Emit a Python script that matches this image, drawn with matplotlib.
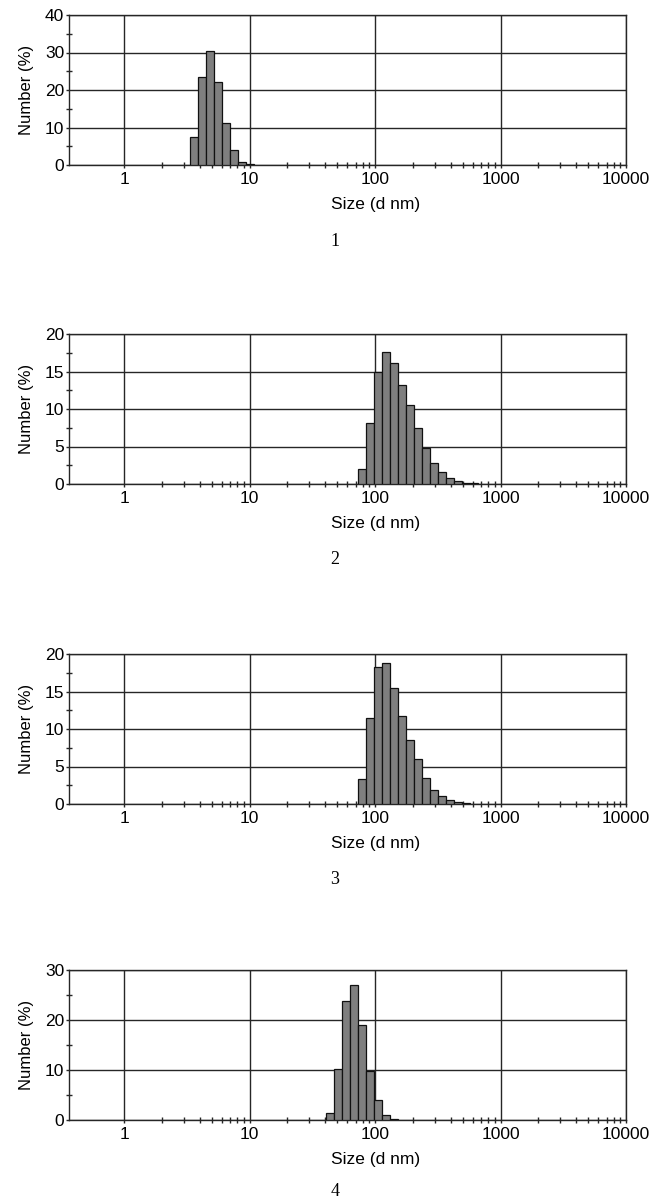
import numpy as np
import matplotlib
matplotlib.use('Agg')
import matplotlib.pyplot as plt
from matplotlib.ticker import FixedLocator, NullFormatter, FixedFormatter

# Malvern size classes (d nm) and number distributions (%) for the 4 samples
sizes_1 = [3.615, 4.187, 4.849, 5.615, 6.503, 7.531, 8.721, 10.10]
number_1 = [7.4, 23.4, 30.5, 22.1, 11.1, 4.0, 0.9, 0.3]

sizes_2 = [78.82, 91.28, 105.7, 122.4, 141.8, 164.2, 190.1, 220.2, 255.0,
           295.3, 342.0, 396.1, 458.7, 531.2, 615.1]
number_2 = [2.0, 8.1, 15.0, 17.6, 16.2, 13.2, 10.5, 7.5, 4.8, 2.75, 1.6, 0.8,
            0.35, 0.2, 0.1]

sizes_3 = [78.82, 91.28, 105.7, 122.4, 141.8, 164.2, 190.1, 220.2, 255.0,
           295.3, 342.0, 396.1, 458.7, 531.2]
number_3 = [3.3, 11.5, 18.3, 18.8, 15.5, 11.7, 8.6, 6.0, 3.5, 1.9, 1.05, 0.5,
            0.25, 0.1]

sizes_4 = [43.82, 50.75, 58.77, 68.06, 78.82, 91.28, 105.7, 122.4, 141.8]
number_4 = [1.4, 10.3, 23.9, 27.1, 19.0, 9.8, 4.1, 1.1, 0.2]

y_max = [40, 20, 20, 30]
y_step = [10, 5, 5, 10]
panel_labels = ['1', '2', '3', '4']

x_major = [1, 10, 100, 1000, 10000]
x_tick_labels = ['1', '10', '100', '1000', '10000']

# log bin width: 70 classes from 0.4 to 10000 nm
step = np.log10(10000 / 0.4) / 69

plt.rcParams['font.family'] = ['Liberation Sans', 'DejaVu Sans']

W, H = 653, 1200
fig = plt.figure(figsize=(W / 100, H / 100), dpi=100)

ax_left = 69
ax_right = 626
ax_h = 150
bottoms = [165, 484, 804, 1120]
label_off = [76, 76, 76, 71]

data = [(sizes_1, number_1), (sizes_2, number_2), (sizes_3, number_3), (sizes_4, number_4)]

for i, (sz, num) in enumerate(data):
    b = bottoms[i]
    ax = fig.add_axes([ax_left / W, 1 - b / H, (ax_right - ax_left) / W, ax_h / H])
    ax.set_xscale('log')
    ax.set_xlim(0.364, 10000)
    ax.set_ylim(0, y_max[i])

    sz = np.array(sz)
    lefts = sz * 10 ** (-step / 2)
    widths = sz * (10 ** (step / 2) - 10 ** (-step / 2))
    ax.bar(lefts, num, width=widths, align='edge', color='#7f7f7f',
           edgecolor='#111111', linewidth=0.9, zorder=3)

    # grid
    ax.xaxis.set_major_locator(FixedLocator(x_major))
    ax.xaxis.set_major_formatter(FixedFormatter(x_tick_labels))
    minors = [m * 10 ** d for d in range(0, 4) for m in range(2, 10)]
    ax.xaxis.set_minor_locator(FixedLocator(minors))
    ax.xaxis.set_minor_formatter(NullFormatter())
    yt = list(range(0, y_max[i] + 1, y_step[i]))
    ax.set_yticks(yt)
    ax.yaxis.set_minor_locator(FixedLocator([v + y_step[i] / 2 for v in yt[:-1]]))
    ax.grid(True, which='major', color='#262626', linewidth=1.0, zorder=1)
    ax.set_axisbelow(True)

    ax.tick_params(which='major', direction='out', length=2, width=1.0,
                   color='#262626', labelsize=12.5)
    ax.tick_params(axis='x', which='major', pad=3)
    ax.tick_params(axis='y', which='major', pad=1.5)
    ax.tick_params(which='minor', direction='inout', length=4.5, width=1.0,
                   color='#262626')
    for s in ax.spines.values():
        s.set_linewidth(1.0)
        s.set_color('#262626')

    ax.set_ylabel('Number (%)', fontsize=12)
    ax.yaxis.set_label_coords(-0.063, 0.5)
    ax.set_xlabel('Size (d nm)', fontsize=12.5)
    ax.xaxis.set_label_coords((376 - ax_left) / (ax_right - ax_left), -0.215)

    fig.text(335 / W, 1 - (b + label_off[i]) / H, panel_labels[i],
             family='Liberation Serif', fontsize=13, ha='center', va='center')

fig.savefig('out.png', dpi=100, facecolor='white')
